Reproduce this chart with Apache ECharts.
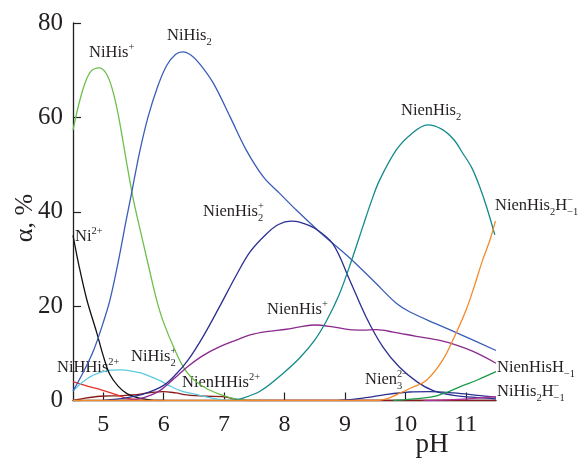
<!DOCTYPE html>
<html><head><meta charset="utf-8">
<script src="https://cdn.jsdelivr.net/npm/echarts@6/dist/echarts.min.js"></script>
<style>html,body{margin:0;padding:0;background:#fff}#c{width:578px;height:460px}</style>
</head><body><div id="c"></div>
<script>
// ---- data (pH, alpha %) ----
const xTickValues = [5, 6, 7, 8, 9, 10, 11];
const yTickValues = [0, 20, 40, 60, 80];

const NiHisP = [[4.5,57.3],[4.6,63],[4.7,67.3],[4.8,69.8],[4.93,70.5],[5.05,69.3],[5.15,66],[5.25,60.5],[5.4,49.5],[5.5,42.5],[5.6,36.8],[5.75,28.5],[5.88,21.5],[6.0,16.5],[6.19,10.6],[6.35,6.6],[6.5,4.4],[6.7,2.6],[6.93,1.3],[7.1,0.6],[7.3,0.1],[7.6,0]];
const NiHis2 = [[4.5,2],[4.65,5.5],[4.84,10.6],[5.0,16.5],[5.11,21.2],[5.25,29.5],[5.38,38.2],[5.47,44],[5.6,52.5],[5.74,60],[5.9,66.5],[6.05,71],[6.2,73.4],[6.32,73.9],[6.45,73.2],[6.6,71.3],[6.82,67.3],[7.1,60.1],[7.37,53],[7.65,47.4],[7.92,43.9],[8.2,40.3],[8.6,35.5],[9.08,30.2],[9.5,25],[9.85,20.6],[10.07,18.8],[10.5,16.3],[11.0,13.5],[11.5,10.6]];
const NienHis2P = [[5.0,0],[5.4,0.6],[5.7,1.5],[6.0,3.2],[6.2,5.5],[6.4,8.5],[6.65,13.5],[6.93,20],[7.2,26.5],[7.43,31.5],[7.7,35.3],[7.9,37.3],[8.11,38],[8.25,37.8],[8.5,36.5],[8.8,33.2],[9.08,25.5],[9.35,17.7],[9.63,11.3],[9.9,7.1],[10.2,3.9],[10.46,2.1],[10.8,1.1],[11.2,0.6],[11.5,0.35]];
const NienHisP = [[5.3,0],[5.6,0.4],[5.8,1.2],[5.95,2.2],[6.1,3.8],[6.25,5.5],[6.4,7.2],[6.65,9.5],[6.93,11.4],[7.2,12.8],[7.43,13.9],[7.7,14.6],[8.03,15.1],[8.25,15.6],[8.5,16],[8.8,15.6],[9.08,15],[9.3,14.9],[9.52,15],[9.8,14.5],[10.18,13.6],[10.5,12.9],[10.73,12.2],[11.12,10.4],[11.5,7.9]];
const NienHis2 = [[7.1,0],[7.31,0.5],[7.6,2],[7.98,5.8],[8.25,9],[8.5,12.8],[8.7,17],[8.9,22.3],[9.1,29.3],[9.3,37],[9.44,42.3],[9.57,46.6],[9.85,53.1],[10.1,56.5],[10.37,58.4],[10.6,57.5],[10.8,55.3],[10.95,52.4],[11.1,49.3],[11.23,45.3],[11.35,40.8],[11.48,35.1]];
const NienHis2Hm1 = [[4.5,0],[9.5,0],[9.7,0.4],[9.9,1.5],[10.1,2.7],[10.35,4.3],[10.62,8.6],[10.84,14.3],[11.0,19],[11.12,23.4],[11.28,29.8],[11.4,34],[11.49,38]];
const Ni2P = [[4.5,35],[4.6,28.5],[4.73,21.3],[4.89,14.5],[5.0,9.5],[5.11,5.5],[5.25,3],[5.4,1.4],[5.6,0.5],[5.8,0.1],[6.0,0]];
const NiHHis2P = [[4.5,2],[4.65,3.8],[4.84,5.4],[5.05,6.3],[5.28,6.5],[5.45,6.3],[5.66,5.7],[5.94,4.2],[6.1,3.1],[6.3,2],[6.6,1.1],[6.8,0.5],[7.04,0.1],[7.3,0]];
const NiH2His = [[4.5,4],[4.75,3],[4.98,2.2],[5.2,1.3],[5.39,0.5],[5.6,0.1],[5.8,0]];
const NienHHis2P = [[4.5,0],[4.7,0.5],[4.95,0.9],[5.25,1],[5.49,1.2],[5.75,1.6],[5.99,1.9],[6.2,1.6],[6.38,1.2],[6.7,0.9],[6.98,0.8],[7.15,0.4],[7.3,0.05],[7.5,0],[11.5,0]];
const Nien3 = [[8.9,0],[9.3,0.5],[9.7,1.3],[10.07,1.8],[10.4,1.9],[10.8,1.6],[11.2,1.1],[11.5,0.7]];
const NienHisHm1 = [[9.8,0],[10.1,0.3],[10.46,0.8],[10.7,1.8],[10.9,2.9],[11.2,4.4],[11.5,6.1]];
const NiHis2Hm1 = [[10.3,0],[10.8,0.2],[11.2,0.5],[11.5,0.8]];

// ---- annotations (pixel anchors, left / middle) ----
const labels = [
  ['NiHis{sup|+}', 89, 53],
  ['NiHis{sub|2}', 167, 36],
  ['NienHis{sub|2}', 401, 111],
  ['NienHis{sub|2}H{supz|−}{sub|−1}', 495, 206],
  ['Ni{sup|2+}', 75, 237],
  ['NienHis{supz|+}{sub|2}', 203, 212],
  ['NienHis{sup|+}', 267, 310],
  ['NiHis{supz|+}{sub|2}', 131, 357],
  ['NiHHis{sup|2+}', 57, 368],
  ['NienHHis{sup|2+}', 182, 383],
  ['Nien{supz|2−}{sub|3}', 365, 380],
  ['NienHisH{sub|−1}', 497, 368],
  ['NiHis{sub|2}H{supz|−}{sub|−1}', 497, 392]
];

const FF = '"Liberation Serif", "Times New Roman", serif';
const TXT = '#231f20';

function line(name, data, color, z) {
  return {
    name, type: 'line', data, smooth: 0.35,
    symbol: 'none', showSymbol: false, z: z || 2,
    lineStyle: { width: 1.3, color }, emphasis: { disabled: true }
  };
}

const chart = echarts.init(document.getElementById('c'), null, { renderer: 'canvas' });
const rich = {
  sup: { font: '10.5px ' + FF, fill: TXT, verticalAlign: 'top', lineHeight: 11 },
  supz: { font: '10.5px ' + FF, fill: TXT, verticalAlign: 'top', lineHeight: 11, width: 0.01, align: 'left' },
  sub: { font: '10.5px ' + FF, fill: TXT, verticalAlign: 'bottom', lineHeight: 11 }
};
const graphics = labels.map(([t, x, y]) => ({
  type: 'text', x, y, silent: true,
  style: { text: t, font: '16.5px ' + FF, fill: TXT, lineHeight: 23, align: 'left', verticalAlign: 'middle', rich }
}));
graphics.push({ type: 'text', x: 432, y: 445, style: { text: 'pH', font: '27px ' + FF, fill: TXT, align: 'center', verticalAlign: 'middle' } });
graphics.push({ type: 'text', x: 25, y: 218, rotation: Math.PI / 2, style: { text: 'α, %', font: '26px ' + FF, fill: TXT, align: 'center', verticalAlign: 'middle' } });

chart.setOption({
  animation: false,
  backgroundColor: '#fff',
  grid: { left: 73, right: 82, top: 23, bottom: 59.5, containLabel: false },
  xAxis: {
    type: 'value', min: 4.5, max: 11.5,
    axisLine: { show: true, onZero: false, lineStyle: { color: TXT, width: 1.3 } },
    axisTick: { show: true, inside: true, length: 8, customValues: xTickValues, lineStyle: { color: TXT, width: 1.2 } },
    axisLabel: { customValues: xTickValues, margin: 12, color: TXT, fontSize: 24, fontFamily: FF },
    splitLine: { show: false }
  },
  yAxis: {
    type: 'value', min: 0, max: 80, interval: 20,
    axisLine: { show: true, lineStyle: { color: TXT, width: 1.3 } },
    axisTick: { show: true, inside: true, length: 8, lineStyle: { color: TXT, width: 1.2 } },
    axisLabel: { margin: 10, color: TXT, fontSize: 25, fontFamily: FF },
    splitLine: { show: false }
  },
  series: [
    line('NienHHis2+', NienHHis2P, '#8b1a1a', 1),
    line('NiH2His', NiH2His, '#e8302a'),
    line('NiHHis2+', NiHHis2P, '#5ccbe0'),
    line('Ni2+', Ni2P, '#111111'),
    line('NiHis+', NiHisP, '#6cc04a'),
    line('NiHis2', NiHis2, '#3a5db8'),
    line('NienHis2+', NienHis2P, '#2b2f8f'),
    line('NienHis+', NienHisP, '#8b2a8e'),
    line('NienHis2', NienHis2, '#138a8a'),
    line('NienHis2H-1', NienHis2Hm1, '#f5892a', 3),
    line('Nien3', Nien3, '#2b2f8f'),
    line('NienHisH-1', NienHisHm1, '#1a9a4a'),
    line('NiHis2H-1', NiHis2Hm1, '#b0309a')
  ],
  graphic: graphics
});
</script></body></html>
